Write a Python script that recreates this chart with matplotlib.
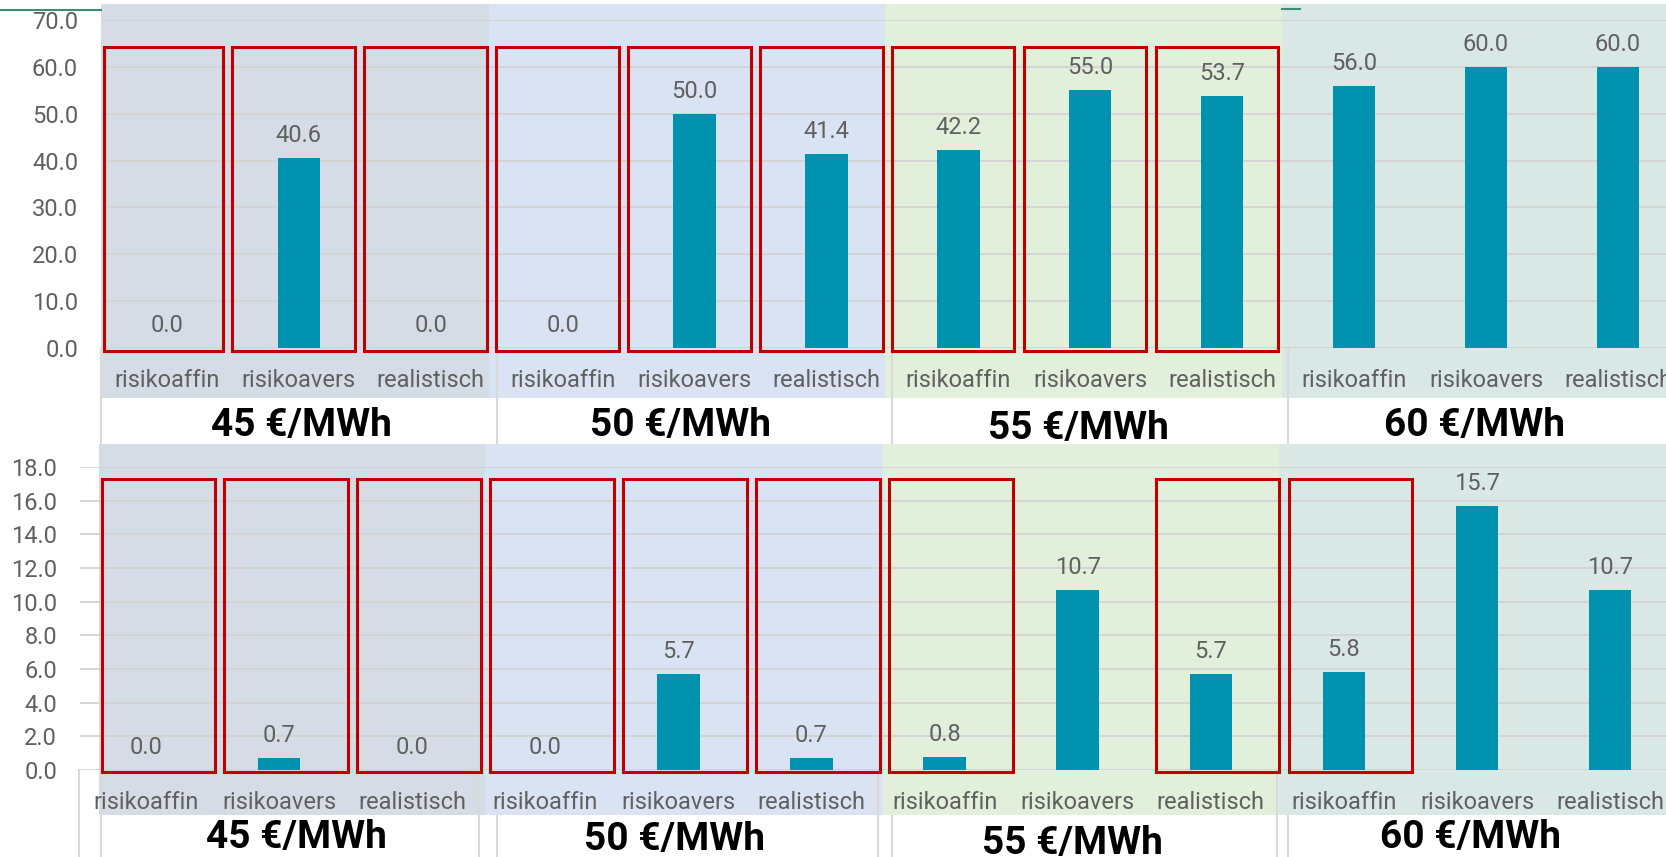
import matplotlib.pyplot as plt
import matplotlib.transforms as mtransforms
from matplotlib.patches import Rectangle
from matplotlib.lines import Line2D

plt.rcParams['font.family'] = ['Roboto', 'DejaVu Sans']

# data
categories = ['risikoaffin', 'risikoavers', 'realistisch'] * 4
prices = ['45 €/MWh', '50 €/MWh', '55 €/MWh', '60 €/MWh']
top_values = [0.0, 40.6, 0.0, 0.0, 50.0, 41.4, 42.2, 55.0, 53.7, 56.0, 60.0, 60.0]
bottom_values = [0.0, 0.7, 0.0, 0.0, 5.7, 0.7, 0.8, 10.7, 5.7, 5.8, 15.7, 10.7]
top_marked = [1, 1, 1, 1, 1, 1, 1, 1, 1, 0, 0, 0]
bottom_marked = [1, 1, 1, 1, 1, 1, 1, 0, 1, 1, 0, 0]

W, H = 1666, 857
BAR = '#0092AE'
GREY = '#606060'
RED = '#C00000'
BG = ['#D6DCE5', '#DAE3F3', '#E2EFDA', '#D9E8E5']

fig = plt.figure(figsize=(W / 100, H / 100), dpi=100)


def fy(py):
    return 1 - py / H


def panel(values, marked, ymax, ystep, box_y, box_dx, left_px, x0_px, step_px,
          top_px, bottom_px, bg_edges, bg_y, title_dx, title_y):
    ax = fig.add_axes([left_px / W, fy(bottom_px), 1 - left_px / W,
                       (bottom_px - top_px) / H])
    ax.set_facecolor('none')
    ax.set_xlim((left_px - x0_px) / step_px, (W - x0_px) / step_px)
    ax.set_ylim(0, ymax)
    blend = mtransforms.blended_transform_factory(ax.transData, fig.transFigure)

    # group backgrounds
    for g in range(4):
        ax.add_patch(Rectangle((bg_edges[g], fy(bg_y[1])), bg_edges[g + 1] - bg_edges[g],
                               (bg_y[1] - bg_y[0]) / H, transform=blend,
                               facecolor=BG[g], edgecolor='none', clip_on=False, zorder=0))
    # group separators under the category axis
    for xs in [-0.5, 2.5, 5.5, 8.5]:
        ax.add_line(Line2D([xs, xs], [fy(bottom_px), 0], transform=blend,
                           color='#D9D9D9', lw=1.5, clip_on=False, zorder=0.3))

    x = list(range(len(values)))
    ax.bar(x, values, width=0.32, color=BAR, zorder=2)
    for i, v in enumerate(values):
        ax.annotate(f'{v:.1f}', (i, v), xytext=(0, 11.5), textcoords='offset points',
                    ha='center', va='baseline', fontsize=17, color=GREY, zorder=4)
        if marked[i]:
            x_left = max(i + box_dx - 0.465, bg_edges[0] + 0.02)
            x_right = i + box_dx + 0.465
            ax.add_patch(Rectangle((x_left, box_y[0]), x_right - x_left, box_y[1] - box_y[0],
                                   facecolor='none', edgecolor=RED, lw=2.2,
                                   clip_on=False, zorder=3))

    ax.set_yticks([k * ystep for k in range(int(ymax / ystep) + 1)])
    ax.set_yticklabels([f'{k * ystep:.1f}' for k in range(int(ymax / ystep) + 1)])
    ax.set_xticks(x)
    ax.set_xticklabels(categories)
    ax.tick_params(axis='y', length=0, pad=16.5, labelsize=17, labelcolor=GREY)
    ax.tick_params(axis='x', length=0, pad=15, labelsize=17, labelcolor=GREY)
    ax.yaxis.grid(True, color='#D3D3D3', lw=1.3)
    ax.set_axisbelow(True)
    for s in ax.spines.values():
        s.set_visible(False)

    for g, p in enumerate(prices):
        ax.text(3 * g + 1 + title_dx[g], fy(title_y[g]), p, transform=blend,
                ha='center', va='center', fontsize=28, fontweight='bold', color='black')
    return ax


panel(top_values, top_marked, 70, 10, (-0.6, 64.2), -0.04, 101, 167, 131.9, 20, 348,
      [-0.5, 2.44, 5.44, 8.45, 12], (4, 398), [0.02, -0.11, -0.09, -0.09],
      [425, 426, 429, 425])
panel(bottom_values, bottom_marked, 18, 2, (-0.12, 17.3), 0.05, 80, 146, 133.1, 467, 770,
      [-0.35, 2.55, 5.54, 8.51, 12], (444, 815), [0.13, -0.03, -0.04, -0.05],
      [838, 839, 843, 838])

# thin chart border remnant at the top
fig.add_artist(Line2D([0, 101 / W], [fy(10), fy(10)], color='#3C8C78', lw=1.5))
fig.add_artist(Line2D([1282 / W, 1300 / W], [fy(9), fy(9)], color='#3C8C78', lw=1.5))

fig.savefig('out.png', dpi=100)
